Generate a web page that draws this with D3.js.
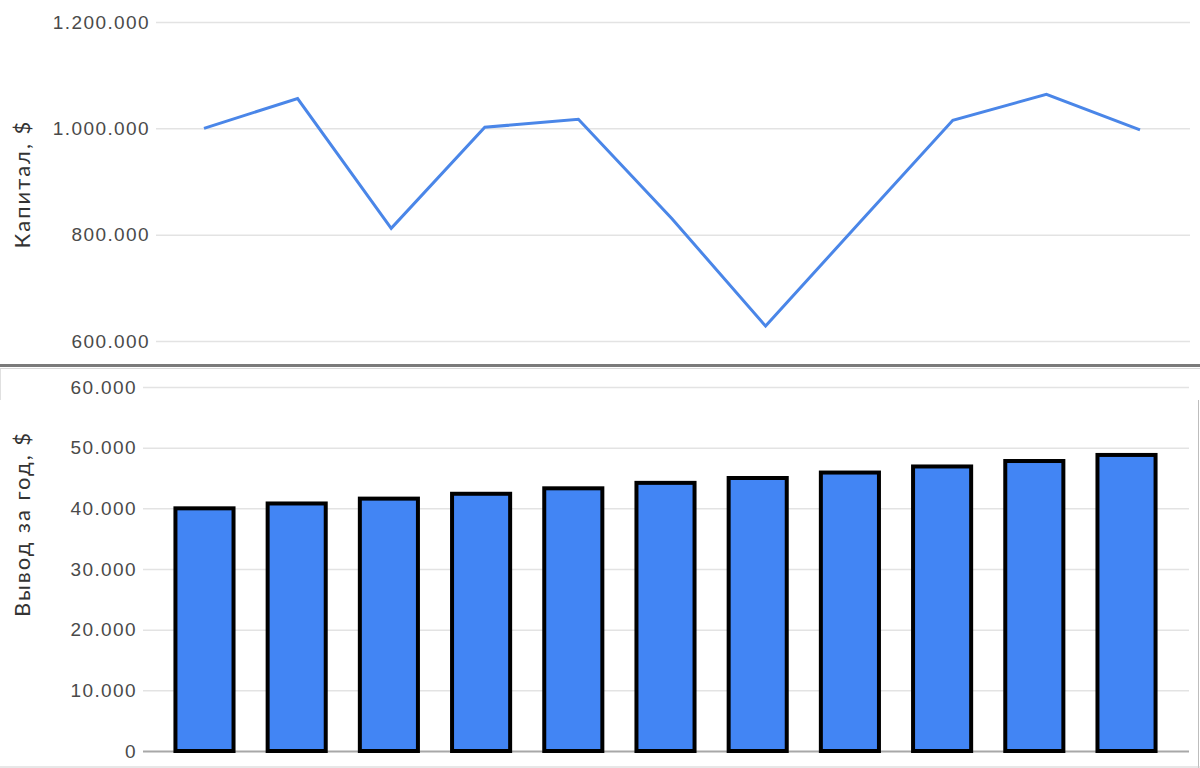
<!DOCTYPE html>
<html>
<head>
<meta charset="utf-8">
<script src="https://cdn.jsdelivr.net/npm/d3@7"></script>
<style>
  html, body { margin: 0; padding: 0; background: #fff; }
  svg { display: block; font-family: Lato, "DejaVu Sans", sans-serif; }
</style>
</head>
<body>
<svg id="chart" width="1200" height="768"></svg>
<script>
// Годы (индексы) и значения
const years = [1, 2, 3, 4, 5, 6, 7, 8, 9, 10, 11];
const capital = [1000000, 1056000, 812000, 1002000, 1017000, 830000, 628000, 822000, 1015000, 1064000, 997000];
const withdrawal = [40000, 40800, 41600, 42400, 43300, 44200, 45000, 45900, 46900, 47800, 48800];
const capitalTicks = [600000, 800000, 1000000, 1200000];
const withdrawalTicks = [0, 10000, 20000, 30000, 40000, 50000, 60000];

const locale = d3.formatLocale({ decimal: ",", thousands: ".", grouping: [3], currency: ["", "$"] });
const fmt = locale.format(",d");

const svg = d3.select('#chart');
const textColor = '#4a4a4a';
const gridColor = '#e3e3e3';
const blue = '#4285f4';

/* ---------- верхний график: капитал ---------- */
const yTop = d3.scaleLinear().domain([600000, 1200000]).range([341, 22]);
const xTop = d3.scalePoint().domain(years).range([204, 1140]);

const gTop = svg.append('g');

gTop.append('g')
  .attr('transform', 'translate(156,0)')
  .call(d3.axisLeft(yTop).tickValues(capitalTicks).tickFormat(fmt).tickSize(-1034).tickPadding(6))
  .call(g => g.select('.domain').remove())
  .call(g => g.selectAll('.tick line').attr('stroke', gridColor).attr('stroke-width', 1.5))
  .call(g => g.selectAll('.tick text')
    .attr('fill', textColor).attr('font-size', 19).attr('letter-spacing', 1.4));

gTop.append('path')
  .datum(capital)
  .attr('fill', 'none')
  .attr('stroke', '#4a86e8')
  .attr('stroke-width', 3)
  .attr('stroke-linejoin', 'miter')
  .attr('d', d3.line().x((d, i) => xTop(years[i])).y(d => yTop(d)));

gTop.append('text')
  .attr('transform', 'translate(30,184) rotate(-90)')
  .attr('text-anchor', 'middle')
  .attr('fill', '#333')
  .attr('font-size', 22)
  .attr('letter-spacing', 2)
  .text('Капитал, $');

/* ---------- разделитель ---------- */
svg.append('rect').attr('x', 0).attr('y', 364).attr('width', 1200).attr('height', 3).attr('fill', '#7a7a7a');
svg.append('line').attr('x1', 0).attr('x2', 1200).attr('y1', 368.5).attr('y2', 368.5).attr('stroke', '#d8d8d8');
svg.append('line').attr('x1', 1198.5).attr('x2', 1198.5).attr('y1', 400).attr('y2', 768).attr('stroke', '#bdbdbd');
svg.append('line').attr('x1', 0).attr('x2', 1200).attr('y1', 767).attr('y2', 767).attr('stroke', '#cfcfcf');
svg.append('line').attr('x1', 0.5).attr('x2', 0.5).attr('y1', 369).attr('y2', 400).attr('stroke', '#e0e0e0');

/* ---------- нижний график: вывод за год ---------- */
const yBot = d3.scaleLinear().domain([0, 60000]).range([751, 387]);
const xBot = d3.scaleBand().domain(years).range([157, 1174]).paddingInner(0.37).paddingOuter(0.2);

const gBot = svg.append('g');

gBot.append('g')
  .attr('transform', 'translate(143,0)')
  .call(d3.axisLeft(yBot).tickValues(withdrawalTicks).tickFormat(fmt).tickSize(-1046).tickPadding(6))
  .call(g => g.select('.domain').remove())
  .call(g => g.selectAll('.tick line')
    .attr('stroke', d => d === 0 ? '#a8a8a8' : gridColor)
    .attr('stroke-width', d => d === 0 ? 2 : 1.5))
  .call(g => g.selectAll('.tick text')
    .attr('fill', textColor).attr('font-size', 19).attr('letter-spacing', 1.4));

gBot.selectAll('rect.bar')
  .data(withdrawal)
  .join('rect')
  .attr('class', 'bar')
  .attr('x', (d, i) => xBot(years[i]))
  .attr('y', d => yBot(d))
  .attr('width', xBot.bandwidth())
  .attr('height', d => yBot(0) - yBot(d))
  .attr('fill', blue)
  .attr('stroke', '#000')
  .attr('stroke-width', 4);

gBot.append('text')
  .attr('transform', 'translate(30,524) rotate(-90)')
  .attr('text-anchor', 'middle')
  .attr('fill', '#333')
  .attr('font-size', 22)
  .attr('letter-spacing', 2)
  .text('Вывод за год, $');
</script>
</body>
</html>
